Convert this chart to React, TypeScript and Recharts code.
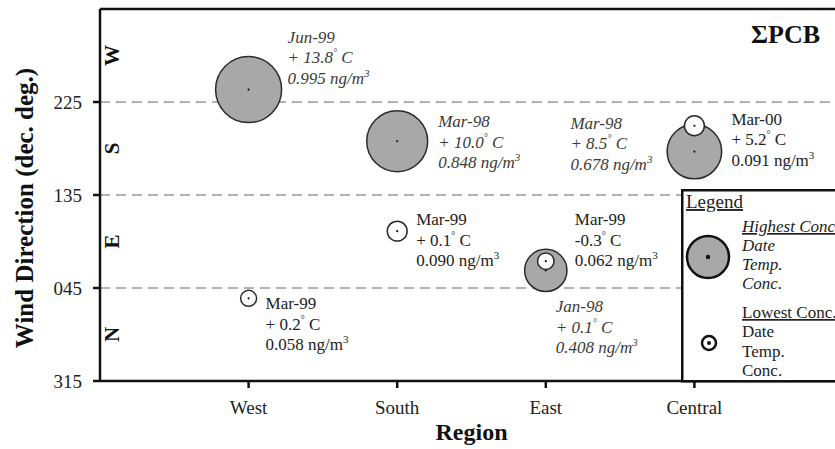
import React from "react";
import {
  ScatterChart,
  Scatter,
  XAxis,
  YAxis,
  ZAxis,
  ReferenceLine,
  ReferenceDot,
} from "recharts";

const regions = ["West", "South", "East", "Central"];

// highest ΣPCB concentration per region
const highDates = ["Jun-99", "Mar-98", "Jan-98", "Mar-98"];
const highTemps = [13.8, 10.0, 0.1, 8.5];
const highConc = [0.995, 0.848, 0.408, 0.678];
const highDir = [237, 187, 62, 177];

// lowest ΣPCB concentration per region
const lowDates = ["Mar-99", "Mar-99", "Mar-99", "Mar-00"];
const lowTemps = [0.2, 0.1, -0.3, 5.2];
const lowConc = [0.058, 0.09, 0.062, 0.091];
const lowDir = [35, 100, 71, 202];

// wind direction axis runs 315 -> 315 (unwrapped as -45 .. 315)
const dirTicks = [-45, 45, 135, 225];
const dashedDirs = [45, 135, 225];
const compassLetters = ["N", "E", "S", "W"];
const compassDirs = [0, 90, 180, 270];

// where each annotation block sits relative to its bubble
const HIGH_LABEL_OFFSET = [
  [39, -47],
  [41, -14],
  [10, 42],
  [-124, -23],
];
const LOW_LABEL_OFFSET = [
  [17, 11],
  [19, -6],
  [29, -36],
  [37, -1],
];

const FONT = "'Liberation Serif', 'Times New Roman', serif";
const MAX_R = 33.1;

const highData = regions.map((region, i) => ({
  x: i + 1,
  dir: highDir[i],
  conc: highConc[i],
  date: highDates[i],
  temp: highTemps[i],
  idx: i,
}));
const lowData = regions.map((region, i) => ({
  x: i + 1,
  dir: lowDir[i],
  conc: lowConc[i],
  date: lowDates[i],
  temp: lowTemps[i],
  idx: i,
}));

const fmtTemp = (t: number) =>
  t >= 0 ? `+ ${t.toFixed(1)}` : `-${Math.abs(t).toFixed(1)}`;

function Annotation({ x, y, p, italic, color }: any) {
  const lh = 20.5;
  return (
    <text
      x={x}
      y={y}
      fontFamily={FONT}
      fontSize={17}
      fontStyle={italic ? "italic" : "normal"}
      fill={color}
    >
      <tspan x={x} y={y}>
        {p.date}
      </tspan>
      <tspan x={x} y={y + lh}>
        {fmtTemp(p.temp)}
        <tspan dy={-7} fontSize={10}>
          °
        </tspan>
        <tspan dy={7}> C</tspan>
      </tspan>
      <tspan x={x} y={y + 2 * lh}>
        {p.conc.toFixed(3)} ng/m
        <tspan dy={-7} fontSize={11}>
          3
        </tspan>
      </tspan>
    </text>
  );
}

function makeBubble(fill: string, offsets: number[][], italic: boolean, color: string) {
  return (props: any) => {
    const { cx, cy, size, payload } = props;
    if (cx == null || cy == null) return null;
    const r = Math.sqrt(Math.max(size, 0) / Math.PI);
    const [dx, dy] = offsets[payload.idx];
    return (
      <g>
        <circle cx={cx} cy={cy} r={r} fill={fill} stroke="#2a2a2a" strokeWidth={1.5} />
        <circle cx={cx} cy={cy} r={1.1} fill="#111" />
        <Annotation x={cx + dx} y={cy + dy} p={payload} italic={italic} color={color} />
      </g>
    );
  };
}

const HighBubble = makeBubble("#a8a8a8", HIGH_LABEL_OFFSET, true, "#3a3a3a");
const LowBubble = makeBubble("#ffffff", LOW_LABEL_OFFSET, false, "#222");

function YTitle() {
  const cx = 33;
  const cy = 208;
  return (
    <text
      x={cx}
      y={cy}
      transform={`rotate(-90, ${cx}, ${cy})`}
      textAnchor="middle"
      fontFamily={FONT}
      fontWeight="bold"
      fontSize={25}
      fill="#111"
    >
      Wind Direction (dec. deg.)
    </text>
  );
}

function XTitle({ viewBox }: any) {
  const { x, width } = viewBox;
  return (
    <text
      x={x + width / 2}
      y={440}
      textAnchor="middle"
      fontFamily={FONT}
      fontWeight="bold"
      fontSize={24}
      fill="#111"
    >
      Region
    </text>
  );
}

function compassShape(letter: string) {
  return (props: any) => {
    const x = props.cx + 19;
    const y = props.cy;
    return (
      <text
        x={x}
        y={y}
        transform={`rotate(-90, ${x}, ${y})`}
        textAnchor="middle"
        fontFamily={FONT}
        fontWeight="bold"
        fontSize={21}
        fill="#111"
      >
        {letter}
      </text>
    );
  };
}

function LegendBox() {
  const it = { fontFamily: FONT, fontSize: 17, fill: "#222" };
  return (
    <svg
      width={170}
      height={194}
      style={{ position: "absolute", left: 681, top: 189 }}
    >
      <rect x={1.25} y={1.25} width={200} height={191} fill="#fff" stroke="#111" strokeWidth={2.5} />
      <text x={5} y={19} {...it} fontSize={19} textDecoration="underline">
        Legend
      </text>
      <circle cx={27} cy={68} r={21} fill="#a8a8a8" stroke="#111" strokeWidth={2.5} />
      <circle cx={27} cy={68} r={2.2} fill="#111" />
      <g {...it} fontStyle="italic">
        <text x={61} y={43} textDecoration="underline">Highest Conc.</text>
        <text x={61} y={62}>Date</text>
        <text x={61} y={81}>Temp.</text>
        <text x={61} y={100}>Conc.</text>
      </g>
      <circle cx={28} cy={154} r={7} fill="#fff" stroke="#111" strokeWidth={2.5} />
      <circle cx={28} cy={154} r={2} fill="#111" />
      <g {...it}>
        <text x={61} y={129} textDecoration="underline">Lowest Conc.</text>
        <text x={61} y={148}>Date</text>
        <text x={61} y={168}>Temp.</text>
        <text x={61} y={187}>Conc.</text>
      </g>
    </svg>
  );
}

export default function App() {
  return (
    <div
      style={{
        position: "absolute",
        left: 0,
        top: 0,
        width: 835,
        height: 449,
        overflow: "hidden",
        background: "#fff",
      }}
    >
      <ScatterChart
        width={845}
        height={449}
        margin={{ top: 9, right: 2, bottom: 8, left: 20 }}
      >
        <XAxis
          type="number"
          dataKey="x"
          domain={[0, 5]}
          ticks={[1, 2, 3, 4]}
          tickFormatter={(v: number) => regions[v - 1] ?? ""}
          height={60}
          tickSize={7}
          tickMargin={13}
          axisLine={{ stroke: "#111", strokeWidth: 2.5 }}
          tickLine={{ stroke: "#111", strokeWidth: 2.5 }}
          tick={{ fontFamily: FONT, fontSize: 19, fill: "#222" }}
          label={<XTitle />}
        />
        <YAxis
          type="number"
          dataKey="dir"
          domain={[-45, 315]}
          ticks={dirTicks}
          tickFormatter={(v: number) => String((v + 360) % 360).padStart(3, "0")}
          width={80}
          tickSize={7}
          tickMargin={11}
          axisLine={{ stroke: "#111", strokeWidth: 2.5 }}
          tickLine={{ stroke: "#111", strokeWidth: 2.5 }}
          tick={{ fontFamily: FONT, fontSize: 19, fill: "#222" }}
          label={<YTitle />}
        />
        <ZAxis
          type="number"
          dataKey="conc"
          domain={[0, 1]}
          range={[0, Math.PI * MAX_R * MAX_R]}
        />
        {dashedDirs.map((d) => (
          <ReferenceLine
            key={d}
            y={d}
            stroke="#999"
            strokeWidth={1.5}
            strokeDasharray="10 6"
          />
        ))}
        <ReferenceLine y={315} stroke="#111" strokeWidth={2.5} />
        {compassLetters.map((l, i) => (
          <ReferenceDot
            key={l}
            x={0}
            y={compassDirs[i]}
            r={0}
            ifOverflow="visible"
            shape={compassShape(l)}
          />
        ))}
        <Scatter data={highData} shape={HighBubble} isAnimationActive={false} />
        <Scatter data={lowData} shape={LowBubble} isAnimationActive={false} />
      </ScatterChart>
      <svg
        width={835}
        height={60}
        style={{ position: "absolute", left: 0, top: 0 }}
      >
        <text
          x={820}
          y={43}
          textAnchor="end"
          fontFamily={FONT}
          fontWeight="bold"
          fontSize={26}
          fill="#111"
        >
          ΣPCB
        </text>
      </svg>
      <LegendBox />
    </div>
  );
}
